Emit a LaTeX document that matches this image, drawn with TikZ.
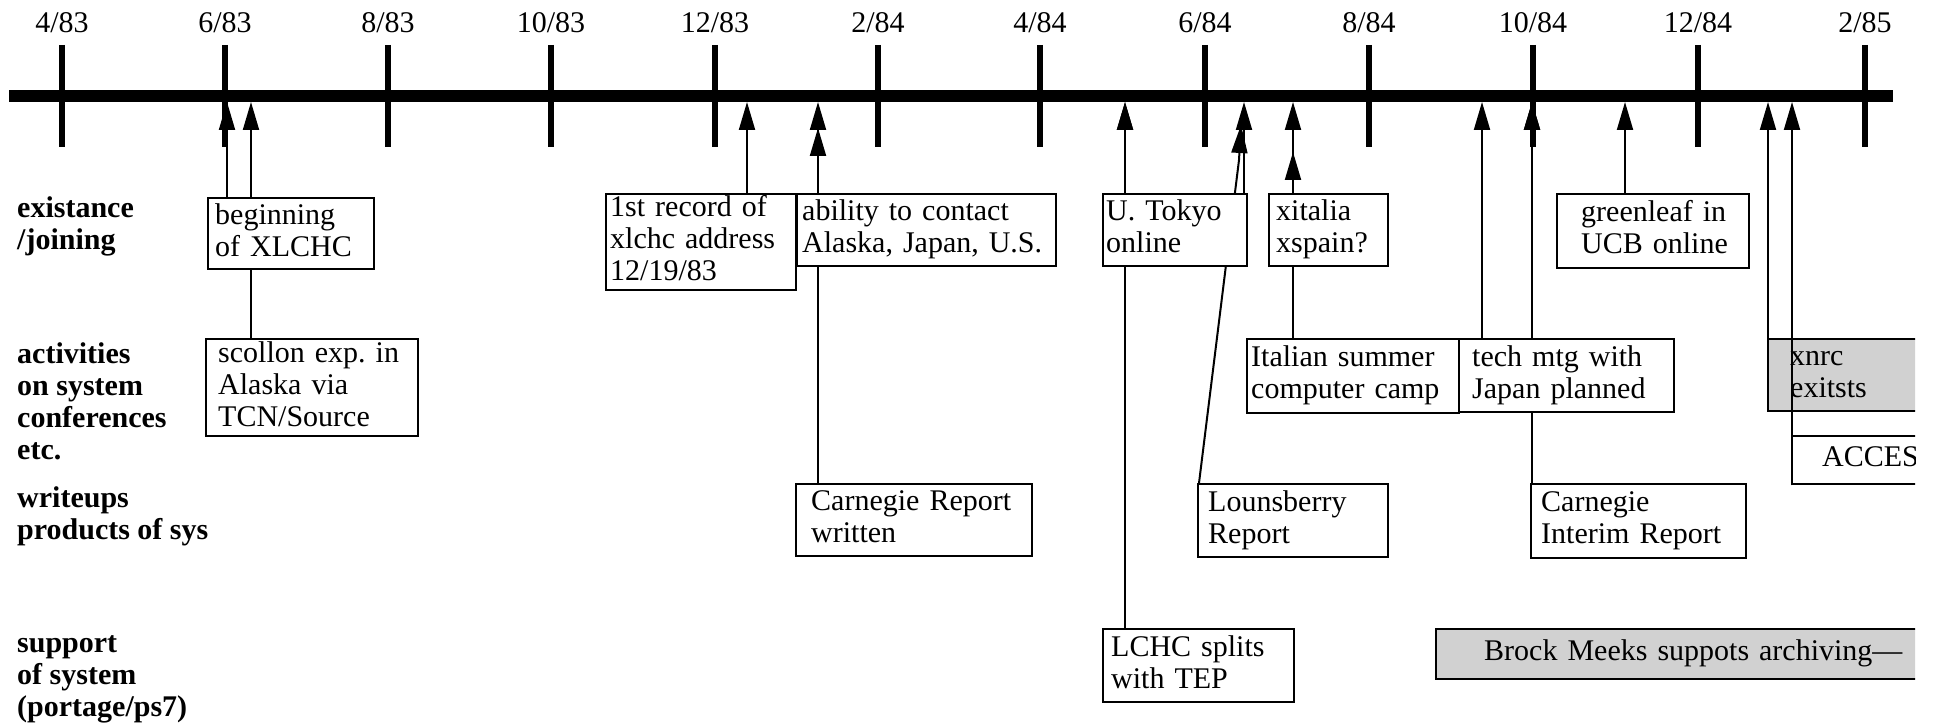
\documentclass[tikz,border=0pt]{standalone}
\usepackage{fontspec}
\setmainfont{Liberation Serif}
\usetikzlibrary{arrows.meta,calc}
\pgfdeclarelayer{background}
\pgfsetlayers{background,main}
\newcommand\boxline[1]{\mbox{\strut#1}}
\hfuzz=800pt
\hbadness=10000
\frenchspacing
\begin{document}
\frenchspacing
\begin{tikzpicture}[x=1pt,y=-1pt,
  box/.style={draw, line width=2.4pt, fill=white, anchor=north west, align=left,
    inner ysep=0pt, font=\fontsize{30}{32}\selectfont},
  shaded/.style={fill=black!18},
  conn/.style={line width=2pt, -{Triangle[length=28pt,width=16pt]}},
  rowlab/.style={anchor=north west, align=left, inner sep=0pt,
    font=\fontsize{30}{32}\selectfont\bfseries},
  ticklab/.style={anchor=base, inner sep=0pt, font=\fontsize{30}{32}\selectfont},
  axisline/.style={line width=12pt},
  tickline/.style={line width=6pt}]
\useasboundingbox (0,0) rectangle (1940,727);

% time axis
\draw[axisline] (9,96) -- (1893,96);
\foreach \x in {62,225,388,551,715,878,1040,1205,1369,1533,1698,1865}{
  \draw[tickline] (\x,45) -- (\x,147);
}
\node[ticklab] (m1)  at (62,33)   {4/83};
\node[ticklab] (m2)  at (225,33)  {6/83};
\node[ticklab] (m3)  at (388,33)  {8/83};
\node[ticklab] (m4)  at (551,33)  {10/83};
\node[ticklab] (m5)  at (715,33)  {12/83};
\node[ticklab] (m6)  at (878,33)  {2/84};
\node[ticklab] (m7)  at (1040,33) {4/84};
\node[ticklab] (m8)  at (1205,33) {6/84};
\node[ticklab] (m9)  at (1369,33) {8/84};
\node[ticklab] (m10) at (1533,33) {10/84};
\node[ticklab] (m11) at (1698,33) {12/84};
\node[ticklab] (m12) at (1865,33) {2/85};

% row labels
\node[rowlab] (r1) at (17,194.6) {\boxline{existance}\\\boxline{/joining}};
\node[rowlab] (r2) at (17,340.6) {\boxline{activities}\\\boxline{on system}\\\boxline{conferences}\\\boxline{etc.}};
\node[rowlab] (r3) at (17,484.6) {\boxline{writeups}\\\boxline{products of sys}};
\node[rowlab] (r4) at (17,629.6) {\boxline{support}\\\boxline{of system}\\\boxline{(portage/ps7)}};

% event boxes
\node[box, inner xsep=7pt,  text width=152pt, minimum height=71pt] (beg)   at (207,197)  {\boxline{beginning}\\\boxline{of XLCHC}};
\node[box, inner xsep=12pt, text width=188pt, minimum height=97pt] (scol)  at (205,338)  {\boxline{scollon exp. in}\\\boxline{Alaska via}\\\boxline{TCN/Source}};
\node[box, inner xsep=4pt,  text width=182pt, minimum height=96pt] (first) at (605,193)  {\boxline{1st record of}\\\boxline{xlchc address}\\\boxline{12/19/83}};
\node[box, inner xsep=5pt,  text width=249pt, minimum height=72pt] (abil)  at (796,193)  {\boxline{ability to contact}\\\boxline{Alaska, Japan, U.S.}};
\node[box, inner xsep=3pt,  text width=138pt, minimum height=72pt] (tokyo) at (1102,193) {\boxline{U. Tokyo}\\\boxline{online}};
\node[box, inner xsep=7pt,  text width=105pt, minimum height=72pt] (xit)   at (1268,193) {\boxline{xitalia}\\\boxline{xspain?}};
\node[box, inner xsep=24pt, text width=144pt, minimum height=74pt] (green) at (1556,193) {\boxline{greenleaf in}\\\boxline{UCB online}};
\node[box, inner xsep=4pt,  text width=204pt, minimum height=74pt] (ital)  at (1246,338) {\boxline{Italian summer}\\\boxline{computer camp}};
\node[box, inner xsep=13pt, text width=189pt, minimum height=73pt] (tech)  at (1458,338) {\boxline{tech mtg with}\\\boxline{Japan planned}};
\node[box, inner xsep=15pt, text width=206pt, minimum height=72pt] (carn)  at (795,483)  {\boxline{Carnegie Report}\\\boxline{written}};
\node[box, inner xsep=10pt, text width=170pt, minimum height=73pt] (lou)   at (1197,483) {\boxline{Lounsberry}\\\boxline{Report}};
\node[box, inner xsep=10pt, text width=195pt, minimum height=74pt] (inter) at (1530,483) {\boxline{Carnegie}\\\boxline{Interim Report}};
\node[box, inner xsep=8pt,  text width=175pt, minimum height=73pt] (lchc)  at (1102,628) {\boxline{LCHC splits}\\\boxline{with TEP}};
\begin{scope}
  \clip (0,0) rectangle (1915,727);
  \node[box, shaded, inner xsep=22pt, text width=156pt, minimum height=72pt] (xnrc)  at (1767,338) {\boxline{xnrc}\\\boxline{exitsts}};
  \node[box, inner xsep=30pt, text width=140pt, minimum height=48pt] (acces) at (1791,435) {\boxline{ACCESS}};
  \node[box, shaded, inner xsep=48pt, text width=504pt, minimum height=50pt] (brock) at (1435,628) {\boxline{Brock Meeks suppots archiving---}};
\end{scope}

% arrow targets on the axis
\coordinate (a-beg1)  at (227,102);
\coordinate (a-beg2)  at (251,102);
\coordinate (a-first) at (747,102);
\coordinate (a-abil)  at (818,102);
\coordinate (a-carn)  at (818,128);
\coordinate (a-tok1)  at (1125,102);
\coordinate (a-tok2)  at (1244,102);
\coordinate (a-loubend) at (1239,160);
\coordinate (a-lou)   at (1241,125);
\coordinate (a-xit)   at (1293,102);
\coordinate (a-ital)  at (1293,152);
\coordinate (a-tech1) at (1482,102);
\coordinate (a-tech2) at (1532,102);
\coordinate (a-green) at (1625,102);
\coordinate (a-xnrc)  at (1768,102);
\coordinate (a-acc)   at (1792,102);

\begin{pgfonlayer}{background}
\draw[conn] (beg.north -| a-beg1) -- (a-beg1);
\draw[conn] (scol.north -| a-beg2) -- (a-beg2);
\draw[conn] (first.north -| a-first) -- (a-first);
\draw[conn] (abil.north -| a-abil) -- (a-abil);
\draw[conn] (carn.north -| a-carn) -- (a-carn);
\draw[conn] (tokyo.north -| a-tok1) -- (a-tok1);
\draw[conn] (lchc.north -| a-tok1) -- (a-tok1);
\draw[conn] (tokyo.north -| a-tok2) -- (a-tok2);
\draw[conn] ($(lou.north west)+(2,0)$) -- (a-loubend) -- (a-lou);
\draw[conn] (xit.north -| a-xit) -- (a-xit);
\draw[conn] (ital.north -| a-ital) -- (a-ital);
\draw[conn] (tech.north -| a-tech1) -- (a-tech1);
\draw[conn] (tech.north -| a-tech2) -- (a-tech2);
\draw[conn] (inter.north -| a-tech2) -- (a-tech2);
\draw[conn] (green.north -| a-green) -- (a-green);
\draw[conn] (xnrc.north -| a-xnrc) -- (a-xnrc);
\end{pgfonlayer}
\draw[conn] (acces.south -| a-acc) -- (a-acc);
\end{tikzpicture}
\end{document}
